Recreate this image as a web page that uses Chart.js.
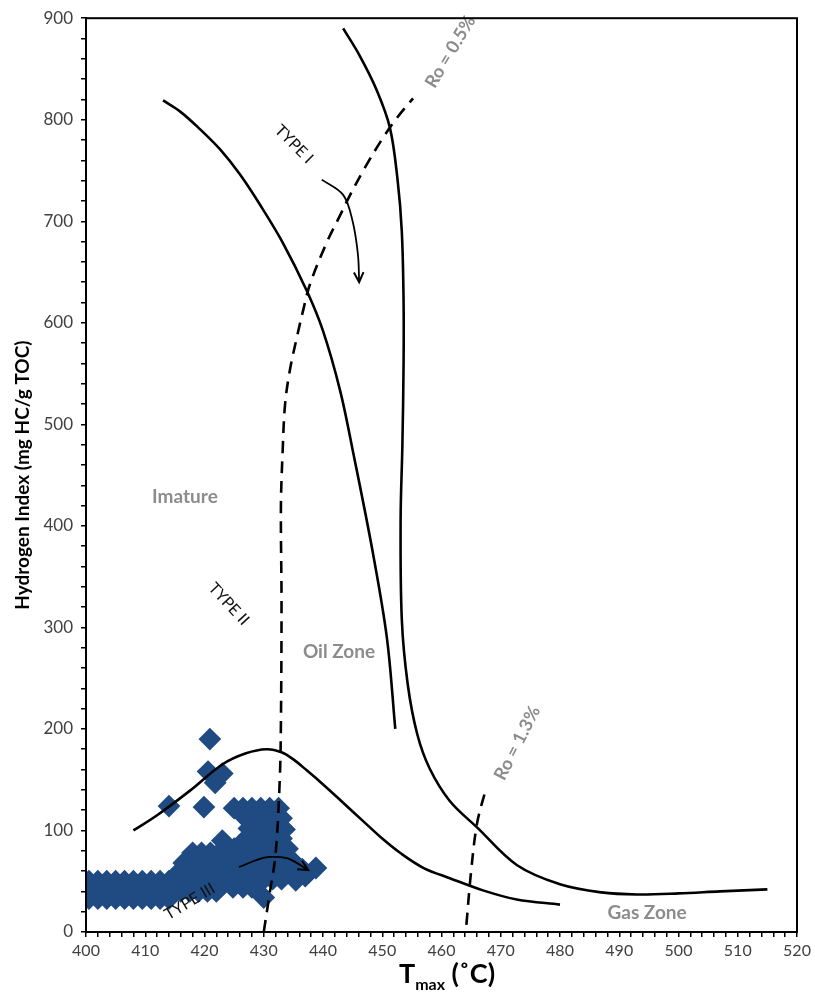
<!DOCTYPE html>
<html>
<head>
<meta charset="utf-8">
<script src="https://cdn.jsdelivr.net/npm/chart.js@4.4.0/dist/chart.umd.min.js"></script>
<style>
  html, body { margin: 0; padding: 0; background: #fff; }
</style>
</head>
<body>
<canvas id="hiChart" width="815" height="993"></canvas>
<script>
// kerogen type curves (Tmax, HI)
const typeICurve = [[443.4,890],[446.2,863],[449,830],[451.3,792],[452.6,740],[453.3,690],[453.6,621],[453.6,560],[453.4,480],[453.1,406],[453.3,308],[454.3,244],[455.9,195],[458,161],[461.4,129],[466,103],[472.7,66],[480,47],[487,39],[493,37],[500,38],[507,40],[515,42]];
const typeIICurve = [[413,819],[415.9,808],[419,792],[422.6,771],[426,746],[429.4,716],[433.2,679],[437.3,631],[440,592],[442.9,533],[445.1,472],[448.4,374],[450.8,289],[452.2,200]];
const typeIIICurve = [[408,100],[412,115],[417.5,139],[423,165],[427,176],[430.5,180],[433,177],[435,170],[437.3,159],[439.5,148],[442.9,130],[447,108],[450,92],[453,78],[457,63],[461.4,53],[467,41],[472.7,32],[480,27]];
// vitrinite reflectance boundaries
const ro05Line = [[430,0],[431,38],[432,77],[432.7,150],[432.9,207],[433,325],[432.9,420],[433.2,475],[433.6,520],[434.4,553],[435.6,586],[436.6,611],[437.8,638],[440.7,680],[442.9,706],[444.5,725],[447,752],[450.1,782],[452.5,802],[455.2,821]];
const ro13Line = [[464.2,7],[465,60],[466,107],[467.4,139]];
// maturation arrows
const arrowI = [[439.8,741],[443.4,726],[445,700],[445.9,667],[446.1,640]];
const arrowIII = [[425.8,64],[429.9,73],[432,74],[434.3,72],[437.5,61]];

// sample points
const samples = [
  // low-maturity band
  [400.5,50],[402,50],[403.5,50],[405,50],[406.5,50],[408,50],[409.5,50],[411,50],[412.5,50],[414,50],
  [400,42],[401.5,42],[403,42],[404.5,42],[406,42],[407.5,42],[409,42],[410.5,42],[412,42],[413.5,42],[415,42],
  [400.5,33],[402,33],[403.5,33],[405,33],[406.5,33],[408,33],[409.5,33],[411,33],[412.5,33],[414,33],
  // rising part
  [418,78],[419.5,78],[421,78],[422.5,78],[423,90],
  [416.5,68],[418,68],[419.5,68],[421,68],[422.5,68],
  [415.5,58],[417,58],[418.5,58],[420,58],[421.5,58],[423,58],
  [415,48],[416.5,48],[418,48],[419.5,48],[421,48],[422.5,48],
  [416,40],[417.5,40],[419,40],[420.5,40],[422,40],
  // main cluster
  [425,122],[426.5,122],[428,122],[429.5,122],[431,122],[432.5,122],
  [427,112],[428.5,112],[430,112],[431.5,112],[433,112],
  [427.5,102],[429,102],[430.5,102],[432,102],[433.5,101],
  [427,92],[428.5,92],[430,92],[431.5,92],[433,92],
  [425,82],[426.5,82],[428,82],[429.5,82],[431,82],[432.5,82],[434,82],
  [424,72],[425.5,72],[427,72],[428.5,72],[430,72],[431.5,72],[433,72],[434.5,72],
  [424.5,62],[426,62],[427.5,62],[429,62],[430.5,62],[432,62],[433.5,62],[435,62],[436.5,62],[438.8,63],
  [424,52],[425.5,52],[427,52],[428.5,52],[430,52],[431.5,52],[433,52],[435.4,51],[437,55],
  [424.8,44],[426.5,44],[428,44],[430,34],
  // outliers
  [414,124],[419.9,123],[420.9,190],[420.6,158],[423,156],[421.8,147]
];

// text annotations
const noteTexts = ['Imature', 'Oil Zone', 'Gas Zone', 'TYPE I', 'TYPE II', 'TYPE III', 'Ro = 0.5%', 'Ro = 1.3%'];
const noteX = [416.7, 442.7, 494.7, 435.1, 424.1, 417.5, 461.5, 472.8];
const noteY = [428.6, 276, 18.6, 776, 323, 30, 867, 186];
const noteAngle = [0, 0, 0, 45, 47, -31, -59, -63];
const noteGray = [true, true, true, false, false, false, true, true];
const noteSize = [19, 19, 19, 16, 16, 16, 18, 18];

const toPts = arr => arr.map(p => ({ x: p[0], y: p[1] }));

function curve(data, dashed) {
  return {
    data: toPts(data),
    showLine: true,
    borderColor: '#000',
    borderWidth: 2.6,
    borderDash: dashed ? [12, 8] : [],
    pointRadius: 0,
    tension: 0.35,
    fill: false
  };
}

const notesPlugin = {
  id: 'notes',
  afterDatasetsDraw(chart) {
    const { ctx, scales } = chart;
    ctx.save();
    noteTexts.forEach((t, i) => {
      const px = scales.x.getPixelForValue(noteX[i]);
      const py = scales.y.getPixelForValue(noteY[i]);
      ctx.save();
      ctx.translate(px, py);
      ctx.rotate(noteAngle[i] * Math.PI / 180);
      ctx.font = (noteGray[i] ? 'bold ' : '') + noteSize[i] + 'px Lato';
      ctx.fillStyle = noteGray[i] ? '#8c8c8c' : '#111';
      ctx.textAlign = 'center';
      ctx.textBaseline = 'middle';
      ctx.fillText(t, 0, 0);
      ctx.restore();
    });
    // arrow heads
    chart.data.datasets.forEach((ds, di) => {
      if (!ds.arrowHead) return;
      const pts = chart.getDatasetMeta(di).data;
      const a = pts[pts.length - 2], b = pts[pts.length - 1];
      const ang = Math.atan2(b.y - a.y, b.x - a.x);
      ctx.strokeStyle = '#000';
      ctx.lineWidth = 2;
      ctx.beginPath();
      ctx.moveTo(b.x - 11 * Math.cos(ang - 0.45), b.y - 11 * Math.sin(ang - 0.45));
      ctx.lineTo(b.x, b.y);
      ctx.lineTo(b.x - 11 * Math.cos(ang + 0.45), b.y - 11 * Math.sin(ang + 0.45));
      ctx.stroke();
    });
    // frame
    const a = chart.chartArea;
    ctx.strokeStyle = '#000';
    ctx.lineWidth = 2;
    ctx.strokeRect(a.left, a.top, a.right - a.left, a.bottom - a.top);
    // x title with subscript
    ctx.fillStyle = '#000';
    ctx.textBaseline = 'alphabetic';
    ctx.textAlign = 'left';
    const big = 'bold 27px Lato', small = 'bold 16px Lato';
    ctx.font = big;
    const wT = ctx.measureText('T').width;
    const wC = ctx.measureText(' (˚C)').width;
    ctx.font = small;
    const wM = ctx.measureText('max').width;
    const x0 = 447 - (wT + wM + wC) / 2;
    const base = 983;
    ctx.font = big;
    ctx.fillText('T', x0, base);
    ctx.font = small;
    ctx.fillText('max', x0 + wT, base + 7);
    ctx.font = big;
    ctx.fillText(' (˚C)', x0 + wT + wM, base);
    ctx.restore();
  }
};

const ctx = document.getElementById('hiChart').getContext('2d');
const chart = new Chart(ctx, {
  type: 'scatter',
  data: {
    datasets: [
      curve(typeICurve),
      curve(typeIICurve),
      curve(typeIIICurve),
      curve(ro05Line, true),
      curve(ro13Line, true),
      Object.assign(curve(arrowI), { borderWidth: 1.8, arrowHead: true }),
      Object.assign(curve(arrowIII), { borderWidth: 1.8, arrowHead: true }),
      {
        data: toPts(samples),
        pointStyle: 'rectRot',
        pointRadius: 10,
        backgroundColor: '#1f4b82',
        borderColor: '#1f4b82',
        borderWidth: 2,
        showLine: false
      }
    ]
  },
  options: {
    responsive: false,
    animation: false,
    layout: { padding: { top: 12, right: 18, left: 0, bottom: 0 } },
    plugins: { legend: { display: false }, tooltip: { enabled: false } },
    scales: {
      x: {
        type: 'linear',
        min: 400,
        max: 520,
        afterFit: s => { s.height = 61; },
        border: { color: '#000', width: 2 },
        grid: { drawOnChartArea: false, color: '#000', tickColor: '#000', tickLength: 5, lineWidth: 1.5 },
        ticks: {
          stepSize: 2,
          autoSkip: false,
          maxRotation: 0,
          padding: 4,
          color: '#404040',
          font: { family: 'Lato', size: 16 },
          callback: v => (v % 10 === 0 ? v : '')
        }
      },
      y: {
        type: 'linear',
        min: 0,
        max: 900,
        afterFit: s => { s.width = 86; },
        border: { color: '#000', width: 2 },
        grid: { drawOnChartArea: false, color: '#000', tickColor: '#000', tickLength: 5, lineWidth: 1.5 },
        title: {
          display: true,
          text: 'Hydrogen Index (mg HC/g TOC)',
          color: '#000',
          font: { family: 'Lato', size: 19, weight: 'bold' },
          padding: { top: 11, bottom: 0 }
        },
        ticks: {
          stepSize: 20,
          autoSkip: false,
          padding: 8,
          color: '#404040',
          font: { family: 'Lato', size: 17 },
          callback: v => (v % 100 === 0 ? v : '')
        }
      }
    }
  },
  plugins: [notesPlugin]
});
</script>
</body>
</html>
